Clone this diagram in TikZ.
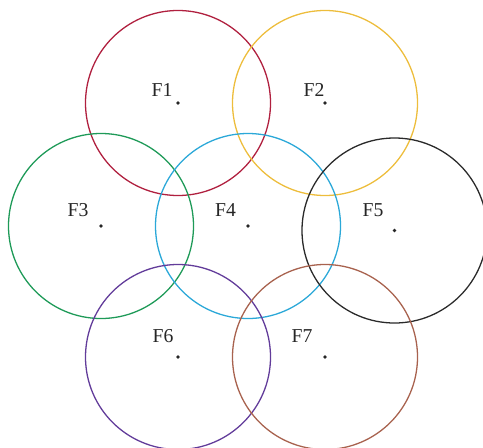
\documentclass[tikz,border=0pt]{standalone}
\usepackage{fontspec}
\setmainfont{Liberation Serif}

\definecolor{fred}{HTML}{B0203F}
\definecolor{fgold}{HTML}{EDBD3C}
\definecolor{fgreen}{HTML}{1E9A58}
\definecolor{fblue}{HTML}{2BA8D8}
\definecolor{fblack}{HTML}{2A2A2A}
\definecolor{fpurple}{HTML}{623C9A}
\definecolor{fbrown}{HTML}{A8624E}

\begin{document}
\begin{tikzpicture}[x=0.03cm, y=-0.03cm,
    ring/.style={line width=1.1pt},
    ctr/.style={circle, fill=black!85, inner sep=0pt, minimum size=3.2pt},
    lab/.style={font=\fontsize{16.8}{20}\selectfont, text=black!85, inner sep=0pt}]
  \useasboundingbox (0,0) rectangle (483,447);
  \clip (0,0) rectangle (483,447);

  % centres of the seven circles
  \node[ctr] (c1) at (178,103) {};
  \node[ctr] (c2) at (325,103) {};
  \node[ctr] (c3) at (101,226) {};
  \node[ctr] (c4) at (248,226) {};
  \node[ctr] (c5) at (394.5,230.5) {};
  \node[ctr] (c6) at (178,357) {};
  \node[ctr] (c7) at (325,357) {};

  % circles
  \draw[ring, fred]    (c1) circle (2.775cm);
  \draw[ring, fgold]   (c2) circle (2.775cm);
  \draw[ring, fgreen]  (c3) circle (2.775cm);
  \draw[ring, fblue]   (c4) circle (2.775cm);
  \draw[ring, fblack]  (c5) circle (2.775cm);
  \draw[ring, fpurple] (c6) circle (2.775cm);
  \draw[ring, fbrown]  (c7) circle (2.775cm);

  % labels
  \node[lab] (f1) at (162,90) {F1};
  \node[lab] (f2) at (314,90) {F2};
  \node[lab] (f3) at (78,210) {F3};
  \node[lab] (f4) at (225.5,210) {F4};
  \node[lab] (f5) at (373,210) {F5};
  \node[lab] (f6) at (163,336) {F6};
  \node[lab] (f7) at (302,336) {F7};
\end{tikzpicture}
\end{document}
